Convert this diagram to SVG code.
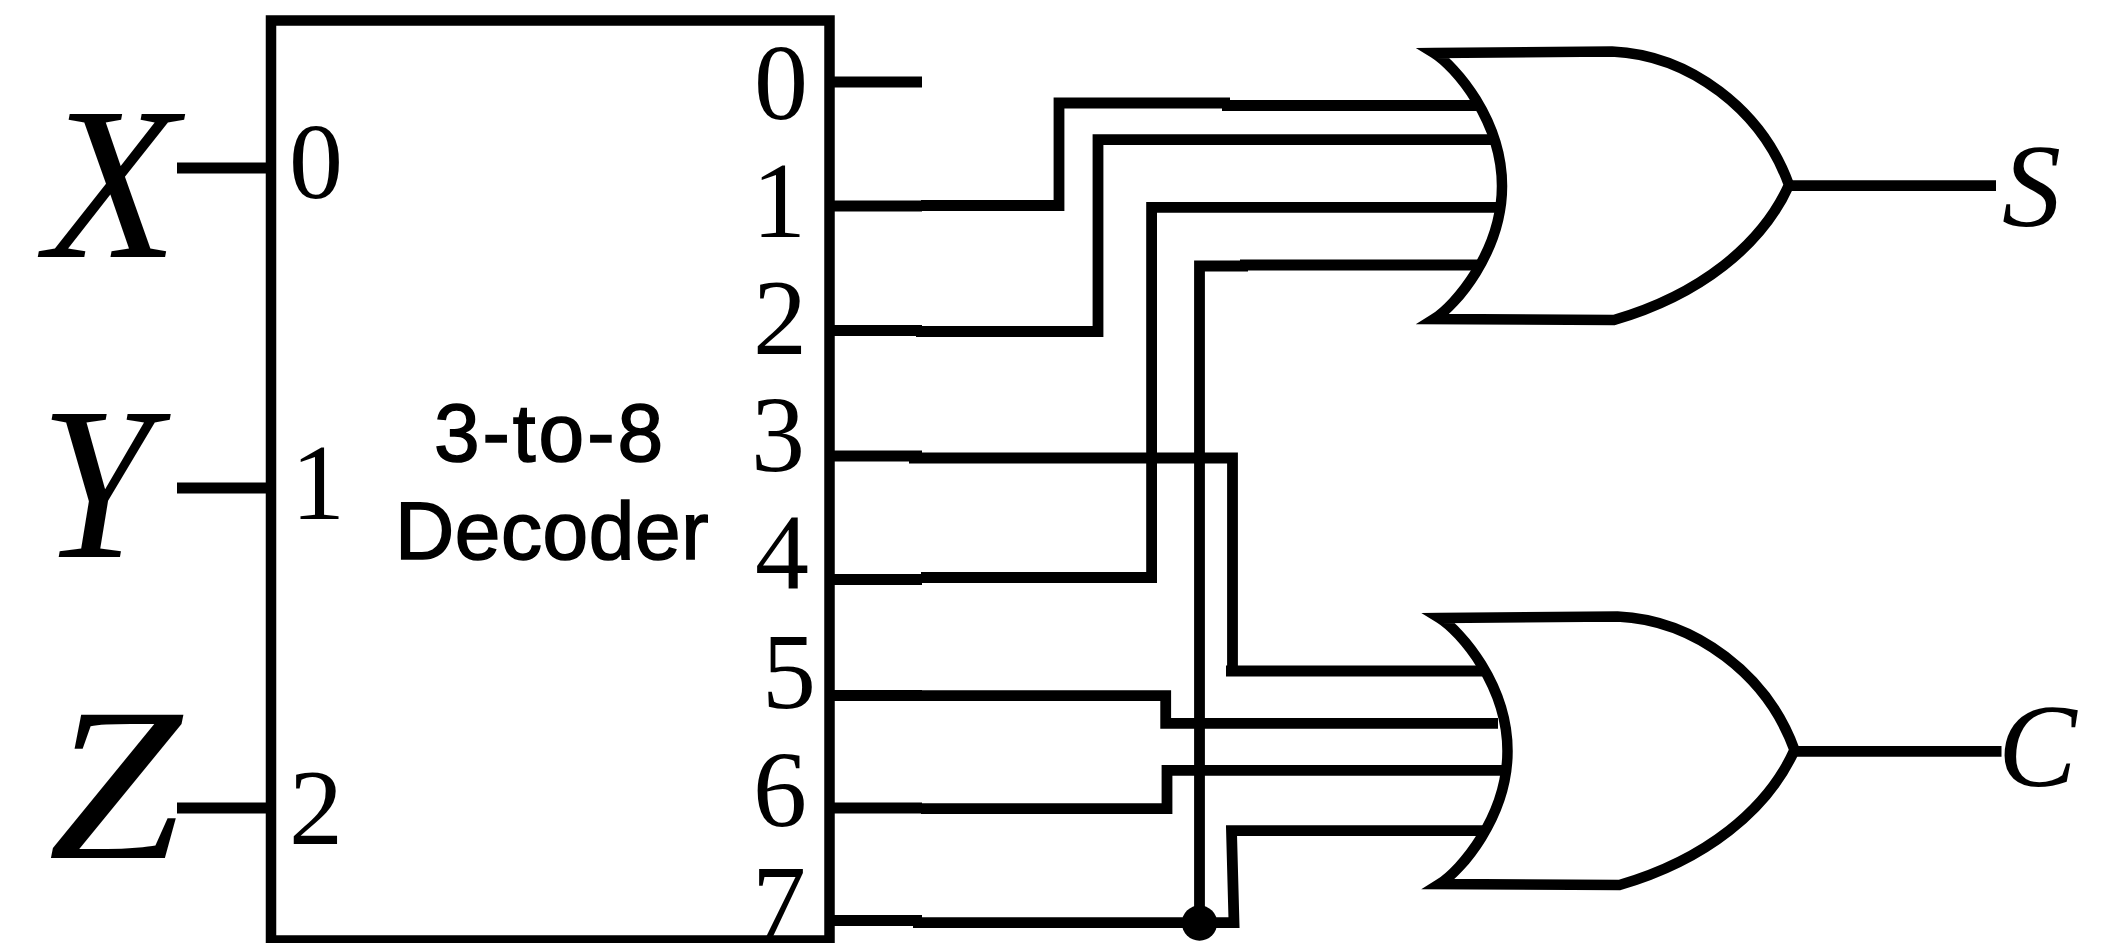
<svg xmlns="http://www.w3.org/2000/svg" width="2105" height="943" viewBox="0 0 2105 943">
<style>
.w{fill:none;stroke:#000;stroke-width:10.8;stroke-miterlimit:10}
.g{fill:#fff;stroke:#000;stroke-width:10.5;stroke-miterlimit:10;stroke-linejoin:miter}
.b{fill:none;stroke:#000;stroke-width:10.5}
.n{font-family:"Liberation Serif",serif;font-size:108px;fill:#000}
.v{font-family:"Liberation Serif",serif;font-style:italic;font-size:218px;fill:#000}
.o{font-family:"Liberation Serif",serif;font-style:italic;font-size:118px;fill:#000}
.t{font-family:"Liberation Sans",sans-serif;font-size:82px;fill:#000;stroke:#000;stroke-width:1.6;text-anchor:middle}
</style>
<defs>
<path id="orshape" d="M1434 53L1612 51.5C1690 55 1762 110 1789 185C1762 245 1700 295 1614 320L1434 319C1455 306 1502 252 1502 186C1502 120 1455 66 1434 53Z"/>
</defs>
<g id="connectors">
<path class="w" d="M177 168H266M177 488H266M177 808H266"/>
<path class="w" d="M834 82H922"/>
<path class="w" d="M834 206H922M921 205.5H1059V103H1230M1222 105.5H1482"/>
<path class="w" d="M834 330.5H922M916 331.5H1098V139.7H1495"/>
<path class="w" d="M834 456H922M909 458H1232.5V671H1226M1226 671H1482"/>
<path class="w" d="M834 579.5H922M921 577.5H1151.6V207.3H1500"/>
<path class="w" d="M834 695.5H922M921 695.7H1165.7V723.3H1498"/>
<path class="w" d="M834 808H922M921 808.7H1167V770.3H1505"/>
<path class="w" d="M834 920.5H922M913 922.7H1234L1231.5 830.7H1484"/>
<path class="w" d="M1199.5 923V266H1248M1240 265H1482"/>
<path class="w" d="M1785 185.7H1996M1790 751.3H2001.5"/>
<circle cx="1199.5" cy="923" r="17.7" fill="#000"/>
</g>
<g id="decoder">
<rect class="b" x="271" y="20.5" width="558.5" height="920"/>
<text class="t" x="550" y="461" letter-spacing="3">3-to-8</text>
<text class="t" x="552" y="559" letter-spacing="0.6">Decoder</text>
<text class="n" x="289" y="198">0</text>
<text class="n" x="291" y="519">1</text>
<text class="n" x="289" y="844">2</text>
<text class="n" x="754" y="119">0</text>
<text class="n" x="752" y="237">1</text>
<text class="n" x="753" y="354">2</text>
<text class="n" x="751" y="471">3</text>
<text class="n" x="755" y="589">4</text>
<text class="n" x="762" y="708">5</text>
<text class="n" x="753" y="826">6</text>
<text class="n" x="752" y="940">7</text>
</g>
<g id="gate-s"><use href="#orshape" class="g"/></g>
<g id="gate-c"><use href="#orshape" class="g" transform="translate(5.5 565)"/></g>
<g id="input-x"><text class="v" x="45" y="257">X</text></g>
<g id="input-y"><text class="v" transform="translate(40 557) scale(.93 1)">Y</text></g>
<g id="input-z"><text class="v" transform="translate(48 858) scale(1.1 1)">Z</text></g>
<g id="output-s"><text class="o" x="2002" y="226">S</text></g>
<g id="output-c"><text class="o" x="1998" y="786">C</text></g>
</svg>
